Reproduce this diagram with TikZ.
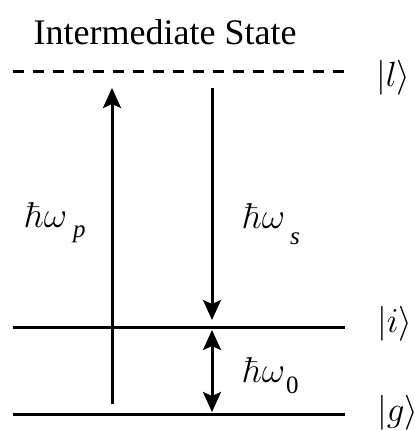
\RequirePackage{fix-cm}
\documentclass[tikz,border=0pt]{standalone}
\usepackage[no-math]{fontspec}
\setmainfont{Liberation Serif}
\usetikzlibrary{arrows.meta}
\begin{document}
\begin{tikzpicture}[x=1pt,y=-1pt,
  level/.style={line width=3pt},
  trans/.style={line width=3pt,-{Stealth[length=20pt,width=18pt,inset=4pt]}},
  dtrans/.style={line width=3pt,{Stealth[length=20pt,width=18pt,inset=4pt]}-{Stealth[length=20pt,width=18pt,inset=4pt]}},
  lbl/.style={inner sep=0pt, anchor=base west, font=\fontsize{36}{40}\selectfont},
  ket/.style={inner sep=0pt, anchor=base west, font=\fontsize{35}{40}\selectfont}]
\useasboundingbox (0,0) rectangle (414,430);
% levels
\coordinate (dL) at (13,72);  \coordinate (dR) at (345,72);
\coordinate (iL) at (13,327); \coordinate (iR) at (345,327);
\coordinate (gL) at (13,414); \coordinate (gR) at (345,414);
\draw[level, dash pattern=on 11pt off 9pt] (dL) -- (dR);
\draw[level] (iL) -- (iR);
\draw[level] (gL) -- (gR);
% transitions
\coordinate (pB) at (112,404); \coordinate (pT) at (112,88);
\coordinate (sT) at (212,88);  \coordinate (sB) at (212,320);
\coordinate (oT) at (212,330); \coordinate (oB) at (212,412);
\draw[trans] (pB) -- (pT);
\draw[trans] (sT) -- (sB);
\draw[dtrans] (oT) -- (oB);
% labels
\node[inner sep=0pt, anchor=base, font=\fontsize{36}{40}\selectfont] (title) at (165,45) {Intermediate State};
\node[ket] (kl) at (376,87) {$|l\rangle$};
\node[ket] (ki) at (377,332) {$|i\rangle$};
\node[ket] (kg) at (377,421) {$|g\rangle$};
\node[lbl] (wp) at (25,227) {$\hbar\omega$\kern6pt\raisebox{-10pt}{\fontsize{25}{25}\selectfont\textit{p}}};
\node[lbl] (ws) at (243,228) {$\hbar\omega$\kern5pt\raisebox{-16pt}{\fontsize{25}{25}\selectfont\textit{s}}};
\node[lbl] (w0) at (243,382) {$\hbar\omega$\kern1pt\raisebox{-11pt}{\fontsize{25}{25}\selectfont 0}};
\end{tikzpicture}
\end{document}
